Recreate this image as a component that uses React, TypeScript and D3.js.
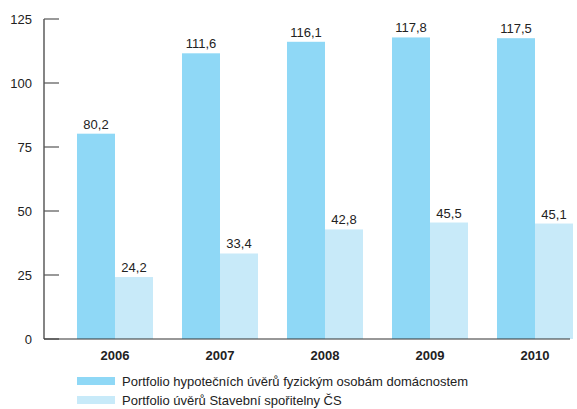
import React from 'react';
import * as d3 from 'd3';

const years = ['2006', '2007', '2008', '2009', '2010'];
const mortgages = [80.2, 111.6, 116.1, 117.8, 117.5];
const savings = [24.2, 33.4, 42.8, 45.5, 45.1];
const yTicks = [0, 25, 50, 75, 100, 125];
const seriesNames = [
  'Portfolio hypotečních úvěrů fyzickým osobám domácnostem',
  'Portfolio úvěrů Stavební spořitelny ČS',
];
const colors = ['#8fd8f6', '#c8eaf9'];

const fmt = (v: number) => v.toFixed(1).replace('.', ',');

export default function App() {
  const width = 577;
  const height = 409;
  const axisX = 44;
  const y = d3.scaleLinear().domain([0, 125]).range([339, 19]);
  const x = d3
    .scaleBand<string>()
    .domain(years)
    .range([62.5, 587.5])
    .paddingInner(0.276)
    .paddingOuter(0.138);
  const inner = d3.scaleBand<number>().domain([0, 1]).range([0, x.bandwidth()]);
  const series = [mortgages, savings];
  const font = 'Liberation Sans, Arial, sans-serif';

  return (
    <svg
      width={width}
      height={height}
      style={{ position: 'absolute', left: 0, top: 0, fontFamily: font }}
    >
      <rect width={width} height={height} fill="#fff" />
      {/* bars */}
      {series.map((vals, si) =>
        vals.map((v, i) => {
          const bx = (x(years[i]) as number) + (inner(si) as number);
          return (
            <g key={`${si}-${i}`}>
              <rect
                x={bx}
                y={y(v)}
                width={inner.bandwidth()}
                height={y(0) - y(v)}
                fill={colors[si]}
              />
              <text
                x={bx + inner.bandwidth() / 2}
                y={y(v) - 5}
                textAnchor="middle"
                fontSize={13}
                fill="#222"
              >
                {fmt(v)}
              </text>
            </g>
          );
        })
      )}
      {/* y axis */}
      <line x1={axisX} x2={axisX} y1={y(125)} y2={y(0)} stroke="#333" strokeWidth={1.2} />
      {yTicks.map((t) => (
        <g key={t}>
          <line x1={axisX} x2={axisX + 15} y1={y(t)} y2={y(t)} stroke="#555" strokeWidth={1.2} />
          <text
            x={32}
            y={y(t)}
            dy="0.35em"
            textAnchor="end"
            fontSize={13}
            fill="#222"
          >
            {t}
          </text>
        </g>
      ))}
      {/* x axis */}
      <line x1={axisX} x2={570} y1={y(0)} y2={y(0)} stroke="#333" strokeWidth={1.2} />
      {years.map((yr) => (
        <text
          key={yr}
          x={(x(yr) as number) + x.bandwidth() / 2}
          y={360}
          textAnchor="middle"
          fontSize={13}
          fontWeight="bold"
          fill="#222"
        >
          {yr}
        </text>
      ))}
      {/* legend */}
      {seriesNames.map((name, i) => (
        <g key={name} transform={`translate(77, ${377 + i * 19})`}>
          <rect width={38} height={8} fill={colors[i]} />
          <text x={45} y={4} dy="0.35em" fontSize={13} fill="#222">
            {name}
          </text>
        </g>
      ))}
    </svg>
  );
}
